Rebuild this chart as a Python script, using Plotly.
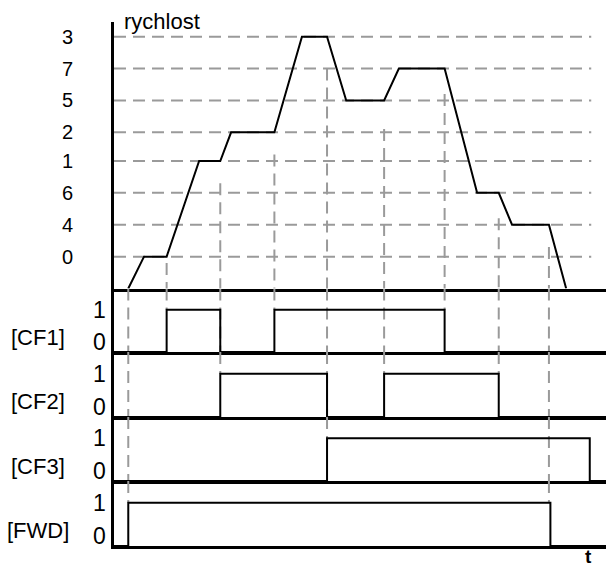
import plotly.graph_objects as go

# ---------------- data ----------------
# time axis in arbitrary units (0..100)
speed_t = [2.9, 6.1, 10.7, 17.3, 21.6, 23.8, 32.6, 38.2, 43.3, 47.2, 54.9, 57.9, 67.2, 73.8, 78.2, 80.9, 88.4, 91.9]
speed_v = [0, 10, 10, 40, 40, 49, 49, 79, 79, 59, 59, 69, 69, 30, 30, 20, 20, 0]

level_names = ["0", "4", "6", "1", "2", "5", "7", "3"]
level_values = [10, 20, 30, 40, 49, 59, 69, 79]
grid_end_t = 97

signal_names = ["[CF1]", "[CF2]", "[CF3]", "[FWD]"]
cf1_t = [0, 10.7, 21.6, 32.6, 67.2, 100]
cf1_v = [0, 1, 0, 1, 0, 0]
cf2_t = [0, 21.6, 43.3, 54.9, 78.2, 100]
cf2_v = [0, 1, 0, 1, 0, 0]
cf3_t = [0, 43.3, 96.7, 100]
cf3_v = [0, 1, 0, 0]
fwd_t = [0, 2.9, 88.7, 100]
fwd_v = [0, 1, 0, 0]

# dashed guide lines: time, top (speed units), signal where it ends
guide_t = [2.9, 10.7, 21.6, 32.6, 43.3, 54.9, 67.2, 78.2, 88.4]
guide_top = [0, 8, 33, 42, 69, 50, 61, 22, 13]
guide_signal = ["[FWD]", "[CF1]", "[CF2]", "[CF1]", "[CF3]", "[CF2]", "[CF1]", "[CF2]", "[FWD]"]

# ---------------- styling ----------------
FONT = "Liberation Sans, Arial, sans-serif"
GRAY = "#9a9a9a"
DASH = "12px,7px"
SIG_TOP = 1.5

signals = [(cf1_t, cf1_v), (cf2_t, cf2_v), (cf3_t, cf3_v), (fwd_t, fwd_v)]
domains = [[0.4914, 1.0], [0.3702, 0.4914], [0.2462, 0.3702], [0.1240, 0.2462], [0.0, 0.1240]]

fig = go.Figure()

# horizontal dashed grid lines in the speed panel
gx, gy = [], []
for v in level_values:
    gx += [0, grid_end_t, None]
    gy += [v, v, None]
fig.add_trace(go.Scatter(x=gx, y=gy, mode="lines", xaxis="x", yaxis="y",
                         line=dict(color=GRAY, width=2, dash=DASH), hoverinfo="skip"))

# vertical dashed guides, speed panel part
vx, vy = [], []
for t, top in zip(guide_t, guide_top):
    if top > 0:
        vx += [t, t, None]
        vy += [top, 0, None]
fig.add_trace(go.Scatter(x=vx, y=vy, mode="lines", xaxis="x", yaxis="y",
                         line=dict(color=GRAY, width=2, dash=DASH), hoverinfo="skip"))

# vertical dashed guides, signal panels part
for i, name in enumerate(signal_names):
    ax = str(i + 2)
    sx, sy = [], []
    for t, target in zip(guide_t, guide_signal):
        k = signal_names.index(target)
        if i < k:
            sx += [t, t, None]
            sy += [SIG_TOP, 0, None]
        elif i == k:
            sx += [t, t, None]
            sy += [SIG_TOP, 1, None]
    fig.add_trace(go.Scatter(x=sx, y=sy, mode="lines", xaxis="x" + ax, yaxis="y" + ax,
                             line=dict(color=GRAY, width=2, dash=DASH), hoverinfo="skip"))

# speed curve
fig.add_trace(go.Scatter(x=speed_t, y=speed_v, mode="lines", xaxis="x", yaxis="y",
                         line=dict(color="black", width=2), hoverinfo="skip"))

# signals
for i, (st, sv) in enumerate(signals):
    ax = str(i + 2)
    fig.add_trace(go.Scatter(x=st, y=sv, mode="lines", line_shape="hv",
                             xaxis="x" + ax, yaxis="y" + ax,
                             line=dict(color="black", width=2), hoverinfo="skip"))

layout = dict(
    width=606, height=567,
    margin=dict(l=114, r=0, t=22, b=21),
    paper_bgcolor="white", plot_bgcolor="white",
    showlegend=False,
    font=dict(family=FONT, color="black"),
)

axis_common = dict(showgrid=False, zeroline=False, showline=True, linecolor="black",
                   linewidth=3, ticks="", fixedrange=True)

for i in range(5):
    suffix = "" if i == 0 else str(i + 1)
    layout["xaxis" + suffix] = dict(axis_common, domain=[0, 1], range=[0, 100],
                                    anchor="y" + suffix, showticklabels=False,
                                    **({} if i == 0 else {"matches": "x"}))
    ydict = dict(axis_common, domain=domains[i], anchor="x" + suffix)
    if i == 0:
        ydict.update(range=[0, 83.6], tickmode="array", tickvals=level_values,
                     ticktext=level_names, tickfont=dict(size=20, family=FONT),
                     ticklabelstandoff=34)
    else:
        ydict.update(range=[0, SIG_TOP], showticklabels=False)
    layout["yaxis" + suffix] = ydict

annotations = [
    dict(text="rychlost", xref="paper", yref="paper", x=0, y=1, xanchor="left",
         yanchor="middle", xshift=8, yshift=1, showarrow=False, font=dict(size=22)),
    dict(text="<b>t</b>", xref="paper", yref="paper", x=1, y=0, xanchor="center",
         yanchor="top", xshift=-18, yshift=2, showarrow=False, font=dict(size=19)),
]
for i, name in enumerate(signal_names):
    ax = str(i + 2)
    annotations.append(dict(text=name, xref="paper", yref="y" + ax, x=0, y=0.35,
                            xanchor="center", yanchor="middle", xshift=-76,
                            showarrow=False, font=dict(size=22)))
    annotations.append(dict(text="1", xref="paper", yref="y" + ax, x=0, y=1,
                            xanchor="right", yanchor="middle", xshift=-6,
                            showarrow=False, font=dict(size=23)))
    annotations.append(dict(text="0", xref="paper", yref="y" + ax, x=0, y=0,
                            xanchor="right", yanchor="middle", xshift=-6, yshift=10,
                            showarrow=False, font=dict(size=23)))
layout["annotations"] = annotations

fig.update_layout(**layout)
fig.write_html("out.html", config={"displayModeBar": False},
               post_script="document.body.style.margin='0';document.body.style.overflow='hidden';")
